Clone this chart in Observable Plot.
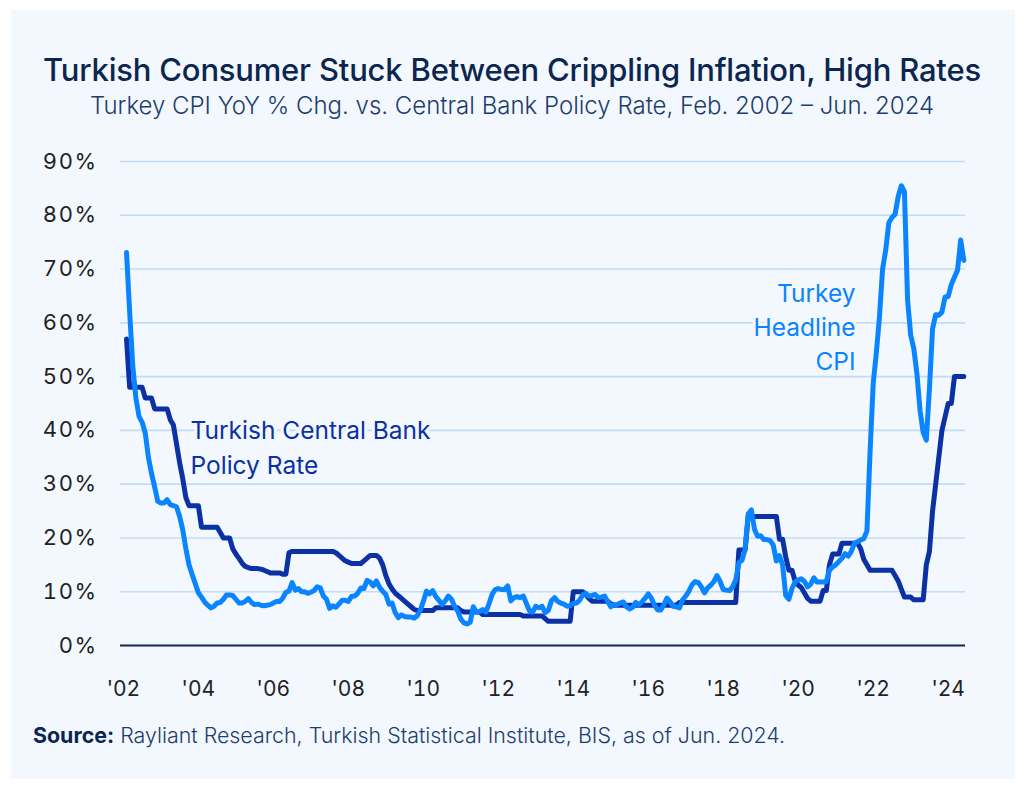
<!DOCTYPE html>
<html><head><meta charset="utf-8">
<script src="https://cdn.jsdelivr.net/npm/d3@7"></script>
<script src="https://cdn.jsdelivr.net/npm/@observablehq/plot@0.6"></script>
<style>
html,body{margin:0;padding:0;background:#fff;width:1024px;height:788px;overflow:hidden;}
#panel{position:absolute;left:11px;top:10px;width:1004px;height:769px;background:#f3f8fe;}
#title{position:absolute;left:0;width:1024px;top:50px;text-align:center;font-family:Inter,sans-serif;font-weight:500;font-size:31px;color:#0c2650;line-height:40px;white-space:nowrap;letter-spacing:-0.2px;}
#subtitle{position:absolute;left:0;width:1024px;top:91px;text-align:center;font-family:Inter,sans-serif;font-weight:300;font-size:24px;color:#1c3d6e;line-height:30px;white-space:nowrap;}
#chart{position:absolute;left:0;top:140px;}
#source{position:absolute;left:33px;top:723px;font-family:Inter,sans-serif;font-weight:300;font-size:21.4px;color:#1c3d6e;line-height:24px;white-space:nowrap;}
#source b{font-weight:700;color:#0c2650;}
</style></head>
<body>
<div id="panel"></div>
<div id="title">Turkish Consumer Stuck Between Crippling Inflation, High Rates</div>
<div id="subtitle">Turkey CPI YoY % Chg. vs. Central Bank Policy Rate, Feb. 2002 – Jun. 2024</div>
<div id="chart"></div>
<div id="source"><b>Source:</b> Rayliant Research, Turkish Statistical Institute, BIS, as of Jun. 2024.</div>
<script>
// Monthly series, first value = Feb 2002, last = Jun 2024
const startYear = 2002, startMonth = 2;
const cpiValues = [
  73.1, 62, 52, 46, 42.6, 41.5, 39.5, 35, 32, 29.5, 26.8,            // 2002 (Feb-Dec)
  26.5, 26.5, 27.1, 26.2, 26, 25.8, 24, 21.5, 18, 15, 13.2, 11.5,    // 2003
  9.8, 9, 8.1, 7.5, 7.0, 7.3, 7.9, 8.0, 8.6, 9.4, 9.4, 9.3,          // 2004
  8.6, 7.9, 7.9, 8.2, 8.7, 8.0, 7.6, 7.7, 7.5, 7.4, 7.5, 7.6,        // 2005
  7.9, 8.2, 8.2, 8.8, 9.9, 10.1, 11.7, 10.3, 10.6, 10.0, 10.0, 9.7,  // 2006
  9.9, 10.2, 10.9, 10.7, 9.2, 8.6, 6.9, 7.4, 7.1, 7.7, 8.4, 8.4,     // 2007
  8.2, 9.1, 9.2, 9.7, 10.7, 10.6, 12.1, 11.8, 11.1, 12.0, 10.8, 10.1,// 2008
  9.5, 7.7, 7.9, 6.1, 5.2, 5.7, 5.4, 5.3, 5.3, 5.1, 5.5, 6.5,        // 2009
  8.2, 10.1, 9.6, 10.2, 9.1, 8.4, 7.6, 8.3, 9.2, 8.6, 7.3, 6.4,      // 2010
  4.9, 4.2, 4.0, 4.3, 7.2, 6.2, 6.3, 6.7, 6.2, 7.7, 9.5, 10.4,       // 2011
  10.6, 10.4, 10.4, 11.1, 8.3, 8.9, 9.1, 8.9, 9.2, 7.8, 6.4, 6.2,    // 2012
  7.3, 7.0, 7.3, 6.1, 6.5, 8.3, 8.9, 8.2, 7.9, 7.7, 7.3, 7.4,        // 2013
  7.8, 7.9, 8.4, 9.4, 9.7, 9.2, 9.3, 9.5, 8.9, 9.0, 9.2, 8.2,        // 2014
  7.2, 7.6, 7.6, 7.9, 8.1, 7.2, 6.8, 7.1, 8.0, 7.6, 8.1, 8.8,        // 2015
  9.6, 8.8, 7.5, 6.6, 6.6, 7.6, 8.8, 8.1, 7.3, 7.2, 7.0, 8.5,        // 2016
  9.2, 10.1, 11.3, 11.9, 11.7, 10.9, 9.8, 10.7, 11.2, 11.9, 13.0, 11.9, // 2017
  10.4, 10.3, 10.2, 10.9, 12.2, 15.4, 15.9, 17.9, 24.5, 25.2, 21.6, 20.3, // 2018
  20.4, 19.7, 19.7, 19.5, 18.7, 15.7, 16.7, 15.0, 9.3, 8.6, 10.6, 11.8,  // 2019
  12.2, 12.4, 11.9, 10.9, 11.4, 12.6, 11.8, 11.8, 11.8, 11.9, 14.0, 14.6, // 2020
  15.0, 15.6, 16.2, 17.1, 16.6, 17.5, 19.0, 19.3, 19.6, 19.9, 21.3, 36.1, // 2021
  48.7, 54.4, 61.1, 70.0, 73.5, 78.6, 79.6, 80.2, 83.5, 85.5, 84.4, 64.3, // 2022
  57.7, 55.2, 50.5, 43.7, 39.6, 38.2, 47.8, 58.9, 61.5, 61.4, 62.0, 64.8, // 2023
  64.9, 67.1, 68.5, 69.8, 75.4, 71.6                                  // 2024 (Jan-Jun)
];
const policyValues = [
  57, 48, 48, 48, 48, 48, 46, 46, 46, 44, 44,                         // 2002 (Feb-Dec)
  44, 44, 44, 42, 41, 37.5, 34, 31, 27.5, 26, 26, 26,                 // 2003
  26, 22, 22, 22, 22, 22, 22, 21, 20, 20, 20, 18,                     // 2004
  17, 16.2, 15.3, 14.7, 14.5, 14.3, 14.3, 14.3, 14.2, 14, 13.75, 13.5,// 2005
  13.5, 13.5, 13.5, 13.25, 13.25, 17.25, 17.5, 17.5, 17.5, 17.5, 17.5, 17.5, // 2006
  17.5, 17.5, 17.5, 17.5, 17.5, 17.5, 17.5, 17.5, 17.25, 16.75, 16.25, 15.75, // 2007
  15.5, 15.25, 15.25, 15.25, 15.25, 15.75, 16.25, 16.75, 16.75, 16.75, 16.25, 15, // 2008
  13, 11.5, 10.5, 9.75, 9.25, 8.75, 8.25, 7.75, 7.25, 6.75, 6.5, 6.5,  // 2009
  6.5, 6.5, 6.5, 6.5, 7, 7, 7, 7, 7, 7, 7, 7,                         // 2010
  6.5, 6.25, 6.25, 6.25, 6.25, 6.25, 6.25, 5.75, 5.75, 5.75, 5.75, 5.75, // 2011
  5.75, 5.75, 5.75, 5.75, 5.75, 5.75, 5.75, 5.75, 5.5, 5.5, 5.5, 5.5, // 2012
  5.5, 5.5, 5.5, 5.0, 4.5, 4.5, 4.5, 4.5, 4.5, 4.5, 4.5, 4.5,         // 2013
  10, 10, 10, 10, 9.5, 8.75, 8.25, 8.25, 8.25, 8.25, 8.25, 8.25,      // 2014
  7.75, 7.5, 7.5, 7.5, 7.5, 7.5, 7.5, 7.5, 7.5, 7.5, 7.5, 7.5,        // 2015
  7.5, 7.5, 7.5, 7.5, 7.5, 7.5, 7.5, 7.5, 7.5, 7.5, 8, 8,             // 2016
  8, 8, 8, 8, 8, 8, 8, 8, 8, 8, 8, 8,                                 // 2017
  8, 8, 8, 8, 8, 17.75, 17.75, 17.75, 24, 24, 24, 24,                 // 2018
  24, 24, 24, 24, 24, 24, 19.75, 19.75, 16.5, 14, 14, 12,             // 2019
  11.25, 10.75, 9.75, 8.75, 8.25, 8.25, 8.25, 8.25, 10.25, 10.25, 15, 17, // 2020
  17, 17, 19, 19, 19, 19, 19, 19, 18, 16, 15, 14,                     // 2021
  14, 14, 14, 14, 14, 14, 14, 13, 12, 10.5, 9, 9,                     // 2022
  9, 8.5, 8.5, 8.5, 8.5, 15, 17.5, 25, 30, 35, 40, 42.5,              // 2023
  45, 45, 50, 50, 50, 50                                              // 2024 (Jan-Jun)
];
const yTicks = [0, 10, 20, 30, 40, 50, 60, 70, 80, 90];
const xTicks = [2002, 2004, 2006, 2008, 2010, 2012, 2014, 2016, 2018, 2020, 2022, 2024];
const xTickLabels = ["'02","'04","'06","'08","'10","'12","'14","'16","'18","'20","'22","'24"];
const policyLabel = [{t: 2003.79, v: 37.2, text: "Turkish Central Bank\nPolicy Rate"}];
const cpiLabel = [{t: 2021.53, v: 59.6, text: "Turkey\nHeadline\nCPI"}];

const colors = {cpi: "#0a84ff", policy: "#0b31a5"};
const bg = "#f3f8fe";

const toT = i => startYear + (startMonth - 1 + i) / 12;
const cpi = cpiValues.map((v, i) => ({t: toT(i), v}));
const policy = policyValues.map((v, i) => ({t: toT(i), v}));

const font = "Inter, 'Noto Sans', sans-serif";
const chart = Plot.plot({
  width: 1024,
  height: 570,
  marginLeft: 120,
  marginRight: 59,
  marginTop: 21,
  marginBottom: 65,
  style: {background: "transparent", fontFamily: font, fontSize: "20px", color: "#222"},
  x: {type: "linear", domain: [2001.9226, 2024.4619]},
  y: {domain: [0, 90]},
  marks: [
    Plot.gridY(yTicks.slice(1), {stroke: "#c4dbf6", strokeOpacity: 1, strokeWidth: 1.6}),
    Plot.ruleY([0], {stroke: "#10294d", strokeWidth: 1.8}),
    Plot.axisY(yTicks, {tickSize: 0, tickPadding: 23, tickFormat: d => d + "%", fontSize: 22, fill: "#222", label: null}),
    Plot.axisX(xTicks, {tickSize: 0, tickPadding: 36, tickFormat: d => xTickLabels[xTicks.indexOf(d)], fontSize: 21, fill: "#222", label: null}),
    Plot.text(policyLabel, {x: "t", y: "v", text: "text", fill: colors.policy, textAnchor: "start",
      lineHeight: 1.4, fontSize: 24.5, stroke: bg, strokeWidth: 6, paintOrder: "stroke"}),
    Plot.text(cpiLabel, {x: "t", y: "v", text: "text", fill: colors.cpi, textAnchor: "end",
      lineHeight: 1.4, fontSize: 24.5, stroke: bg, strokeWidth: 6, paintOrder: "stroke"}),
    Plot.line(policy, {x: "t", y: "v", stroke: colors.policy, strokeWidth: 5, strokeLinejoin: "round", strokeLinecap: "round"}),
    Plot.line(cpi, {x: "t", y: "v", stroke: colors.cpi, strokeWidth: 5, strokeLinejoin: "round", strokeLinecap: "round"})
  ]
});
document.getElementById("chart").appendChild(chart);
d3.select(chart).selectAll('g[aria-label="y-axis tick label"] text').style("letter-spacing", "1.5px");
</script>
</body></html>
